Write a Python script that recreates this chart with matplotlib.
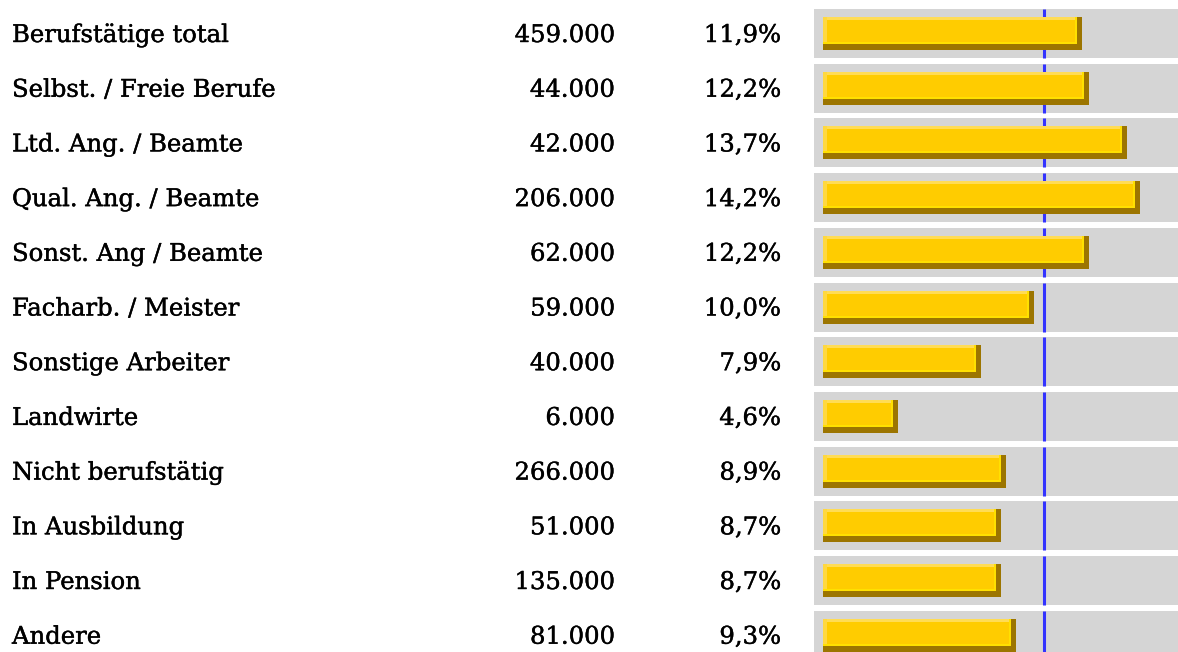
import numpy as np
import matplotlib.pyplot as plt
import matplotlib.patheffects as pe
from matplotlib.transforms import blended_transform_factory

# data
groups = ['Berufstätige total', 'Selbst. / Freie Berufe', 'Ltd. Ang. / Beamte',
          'Qual. Ang. / Beamte', 'Sonst. Ang / Beamte', 'Facharb. / Meister',
          'Sonstige Arbeiter', 'Landwirte', 'Nicht berufstätig', 'In Ausbildung',
          'In Pension', 'Andere']
counts = [459000, 44000, 42000, 206000, 62000, 59000, 40000, 6000, 266000, 51000, 135000, 81000]
shares = [11.9, 12.2, 13.7, 14.2, 12.2, 10.0, 7.9, 4.6, 8.9, 8.7, 8.7, 9.3]
average = 10.4

W, H = 1178, 652
fig = plt.figure(figsize=(W / 100, H / 100), dpi=100)
ax = fig.add_axes([0, 0, 1, 1])

# pixel <-> data mapping of the bar scale (25.2 px per percent, zero at x=782px)
px_per = 25.2
x0 = 782
ax.set_xlim((0 - x0) / px_per, (W - x0) / px_per)
pitch = 54.7
y0 = 33.5
ax.set_ylim((H - y0) / pitch, (0 - y0) / pitch)
ax.axis('off')

rows = np.arange(len(groups))
shares = np.array(shares)
panel_left = (814 - x0) / px_per
bar_left = (823 - x0) / px_per
panel_h = 49 / pitch
bar_h = 33 / pitch
u = 1 / pitch          # one pixel in row units
xu = 1 / px_per        # one pixel in percent units
top = rows - bar_h / 2

# grey panels
ax.barh(rows, 20, left=panel_left, height=panel_h, color='#d5d5d5', zorder=1)

# average line, only inside the panels
ax.vlines(np.full(len(rows), average), rows - panel_h / 2, rows + panel_h / 2,
          color='#3333ff', lw=2.2, zorder=2)

# bevelled gold bars
widths = shares - bar_left
ax.barh(rows, widths, left=bar_left, height=bar_h, color='#9c7500', zorder=3)
ax.barh(top + (bar_h - 6 * u) / 2, widths - 5 * xu, left=bar_left,
        height=bar_h - 6 * u, color='#ffe000', zorder=4)
ax.barh(top + (bar_h - 8 * u) / 2, widths - 7 * xu, left=bar_left,
        height=bar_h - 8 * u, color='#ffcc00', zorder=5)
ax.barh(top + 3 * u / 2, widths - 7 * xu, left=bar_left,
        height=3 * u, color='#ffdc55', zorder=6)
ax.barh(top + (bar_h - 8 * u) / 2, 4 * xu, left=bar_left,
        height=bar_h - 8 * u, color='#ffd840', zorder=6)

# table text
trans = blended_transform_factory(fig.transFigure, ax.transData)
font = dict(family='DejaVu Serif', fontsize=17.5, color='black', va='baseline',
            path_effects=[pe.withStroke(linewidth=0.3, foreground='black')])
for i in rows:
    yb = i + 8.5 * u
    ax.text(12 / W, yb, groups[i], ha='left', transform=trans, **font)
    ax.text(615 / W, yb, f'{counts[i]:,}'.replace(',', '.'), ha='right', transform=trans, **font)
    ax.text(781 / W, yb, f'{shares[i]:.1f}%'.replace('.', ','), ha='right', transform=trans, **font)

fig.savefig('out.png', dpi=100)
